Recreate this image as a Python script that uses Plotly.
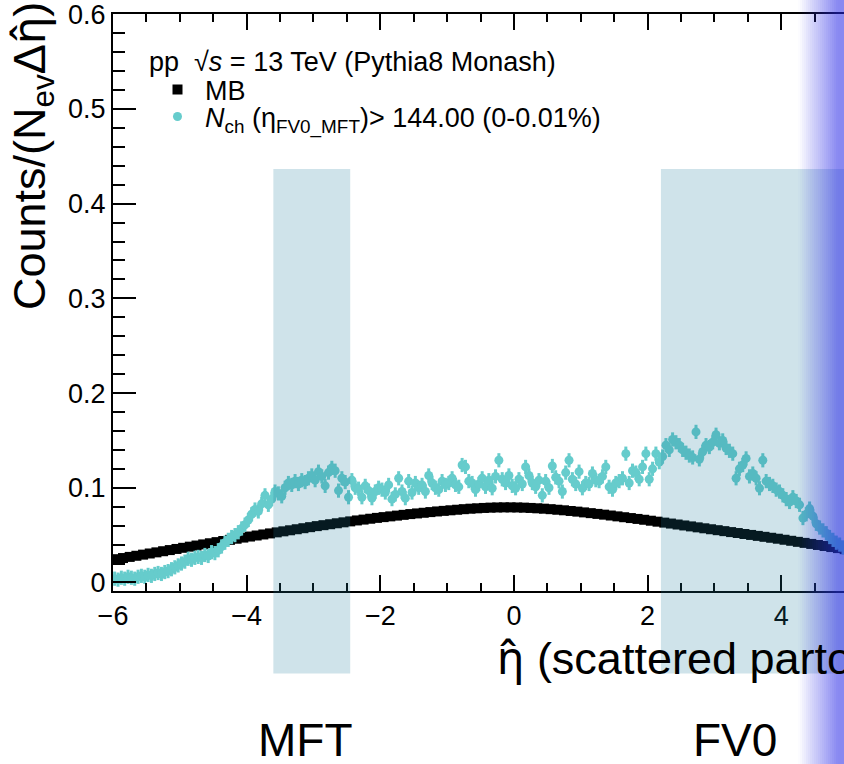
import numpy as np
import plotly.graph_objects as go

# ---- data -------------------------------------------------------------
# MB : black squares, 0.1 wide bins from -6 to 5
mb_bin_width = 0.1
mb_vals = [
    0.0246, 0.0258, 0.0270, 0.0282, 0.0294, 0.0306, 0.0318, 0.0330, 0.0342, 0.0354,
    0.0366, 0.0378, 0.0390, 0.0402, 0.0414, 0.0426, 0.0438, 0.0450, 0.0462, 0.0474,
    0.0485, 0.0496, 0.0507, 0.0518, 0.0529, 0.0540, 0.0551, 0.0562, 0.0573, 0.0584,
    0.0595, 0.0605, 0.0615, 0.0625, 0.0635, 0.0645, 0.0655, 0.0664, 0.0673, 0.0682,
    0.0690, 0.0698, 0.0706, 0.0714, 0.0722, 0.0729, 0.0736, 0.0743, 0.0750, 0.0756,
    0.0762, 0.0768, 0.0774, 0.0779, 0.0783, 0.0787, 0.0790, 0.0792, 0.0793, 0.0793,
    0.0792, 0.0790, 0.0787, 0.0783, 0.0779, 0.0774, 0.0768, 0.0762, 0.0755, 0.0748,
    0.0740, 0.0732, 0.0724, 0.0716, 0.0707, 0.0698, 0.0689, 0.0680, 0.0671, 0.0662,
    0.0652, 0.0642, 0.0632, 0.0622, 0.0612, 0.0602, 0.0592, 0.0582, 0.0572, 0.0562,
    0.0552, 0.0542, 0.0532, 0.0522, 0.0512, 0.0502, 0.0492, 0.0482, 0.0472, 0.0462,
    0.0451, 0.0440, 0.0429, 0.0418, 0.0407, 0.0396, 0.0385, 0.0374, 0.0363, 0.0352,
]

# Nch > 144 (0-0.01%) : teal circles, 0.05 wide bins from -6 to 5
hm_bin_width = 0.05
hm_vals = [
    # -6 .. -5
    0.004, 0.003, 0.005, 0.004, 0.006, 0.005, 0.004, 0.006, 0.007, 0.006,
    0.008, 0.007, 0.009, 0.010, 0.009, 0.011, 0.012, 0.014, 0.016, 0.018,
    # -5 .. -4
    0.020, 0.022, 0.025, 0.024, 0.026, 0.027, 0.026, 0.029, 0.028, 0.032,
    0.031, 0.034, 0.038, 0.042, 0.045, 0.048, 0.050, 0.053, 0.057, 0.061,
    # -4 .. -3
    0.066, 0.072, 0.077, 0.075, 0.083, 0.092, 0.082, 0.088, 0.096, 0.094,
    0.091, 0.100, 0.105, 0.103, 0.107, 0.104, 0.108, 0.106, 0.110, 0.113,
    # -3 .. -2
    0.108, 0.117, 0.112, 0.102, 0.116, 0.121, 0.118, 0.097, 0.110, 0.106,
    0.090, 0.108, 0.100, 0.099, 0.090, 0.102, 0.097, 0.089, 0.096, 0.100,
    # -2 .. -1
    0.098, 0.095, 0.103, 0.088, 0.093, 0.110, 0.096, 0.089, 0.107, 0.095,
    0.105, 0.100, 0.103, 0.096, 0.113, 0.105, 0.100, 0.098, 0.107, 0.103,
    # -1 .. 0
    0.105, 0.110, 0.103, 0.101, 0.124, 0.122, 0.107, 0.105, 0.098, 0.104,
    0.110, 0.101, 0.108, 0.0995, 0.112, 0.129, 0.109, 0.105, 0.113, 0.102,
    # 0 .. 1
    0.0995, 0.109, 0.104, 0.122, 0.113, 0.105, 0.101, 0.108, 0.092, 0.107,
    0.100, 0.123, 0.111, 0.107, 0.096, 0.116, 0.129, 0.109, 0.104, 0.117,
    # 1 .. 2
    0.0995, 0.105, 0.104, 0.115, 0.108, 0.107, 0.112, 0.122, 0.101, 0.098,
    0.105, 0.107, 0.110, 0.136, 0.105, 0.118, 0.116, 0.109, 0.122, 0.136,
    # 2 .. 3
    0.109, 0.120, 0.136, 0.127, 0.133, 0.145, 0.140, 0.151, 0.148, 0.145,
    0.140, 0.137, 0.134, 0.132, 0.159, 0.130, 0.138, 0.145, 0.143, 0.148,
    # 3 .. 4
    0.156, 0.147, 0.150, 0.142, 0.139, 0.136, 0.110, 0.120, 0.124, 0.131,
    0.112, 0.115, 0.110, 0.0995, 0.129, 0.107, 0.104, 0.102, 0.098, 0.096,
    # 4 .. 5
    0.092, 0.088, 0.085, 0.090, 0.086, 0.082, 0.068, 0.072, 0.078, 0.070,
    0.062, 0.058, 0.055, 0.052, 0.048, 0.045, 0.042, 0.040, 0.037, 0.035,
]
hm_err = 0.0075

# detector acceptances (eta)
mft_eta = [-3.6, -2.45]
fv0_eta = [2.2, 5.1]
box_y = [-0.096, 0.4365]   # vertical extent of the acceptance bands

x_range = [-6, 4.94]
y_range = [-0.009, 0.6002]

mb_x = -6 + mb_bin_width * (np.arange(len(mb_vals)) + 0.5)
hm_x = -6 + hm_bin_width * (np.arange(len(hm_vals)) + 0.5)

# ---- figure -----------------------------------------------------------
W, H = 844, 764
ml, mr, mt, mb = 113, 0, 14, 173
pw, ph = W - ml - mr, H - mt - mb

def ypaper(v):
    return (v - y_range[0]) / (y_range[1] - y_range[0])

def px2paper_x(p):
    return (p - ml) / pw

def px2paper_y(p):
    return (H - mb - p) / ph

FONT = "Liberation Sans, Arial, Helvetica, sans-serif"
ETAHAT = "<span style='font-family:Noto Sans'>η̂</span>"
teal = "#66CCCC"

fig = go.Figure()
fig.add_trace(go.Scatter(
    x=mb_x, y=mb_vals, mode="markers", name="MB",
    marker=dict(symbol="square", size=10, color="black"),
    legend="legend",
))
fig.add_trace(go.Scatter(
    x=hm_x, y=hm_vals, mode="markers",
    name="<i>N</i><sub>ch</sub> (η<sub>FV0_MFT</sub>)> 144.00 (0-0.01%)",
    marker=dict(symbol="circle", size=9, color=teal),
    error_y=dict(type="constant", value=hm_err, color=teal, thickness=3, width=0),
    legend="legend2",
))

shapes = []
for eta in (mft_eta, fv0_eta):
    shapes.append(dict(type="rect", xref="x", yref="paper",
                       x0=eta[0], x1=eta[1], y0=ypaper(box_y[0]), y1=ypaper(box_y[1]),
                       fillcolor="rgba(29,125,154,0.21)", line_width=0, layer="above"))

# blue fade on the right edge (slide decoration)
n_strip = 20
for i in range(n_strip + 1):
    p0 = 798 + 2 * i
    p1 = p0 + 2 if i < n_strip else W + 2
    a = 0.55 * min(1.0, (i + 0.5) / n_strip)
    shapes.append(dict(type="rect", xref="paper", yref="paper",
                       x0=px2paper_x(p0), x1=px2paper_x(p1),
                       y0=px2paper_y(H + 2), y1=px2paper_y(-2),
                       fillcolor=f"rgba(40,40,230,{a:.3f})", line_width=0, layer="above"))

annotations = [
    dict(text="pp  √<i>s</i> = 13 TeV (Pythia8 Monash)", xref="paper", yref="paper",
         x=px2paper_x(147), y=px2paper_y(62), xanchor="left", yanchor="middle",
         showarrow=False, font=dict(size=27, color="black", family=FONT)),
    dict(text="Counts/(N<sub>ev</sub>Δ" + ETAHAT + ")", xref="paper", yref="paper", textangle=-90,
         x=px2paper_x(-5), y=px2paper_y(0), xanchor="left", yanchor="top",
         showarrow=False, font=dict(size=45, color="black", family=FONT)),
    dict(text=ETAHAT + " (scattered parton)", xref="paper", yref="paper",
         x=px2paper_x(495), y=px2paper_y(656), xanchor="left", yanchor="middle",
         showarrow=False, font=dict(size=45, color="black", family=FONT)),
    dict(text="MFT", xref="paper", yref="paper",
         x=px2paper_x(305), y=px2paper_y(740), xanchor="center", yanchor="middle",
         showarrow=False, font=dict(size=46, color="black", family=FONT)),
    dict(text="FV0", xref="paper", yref="paper",
         x=px2paper_x(735), y=px2paper_y(740), xanchor="center", yanchor="middle",
         showarrow=False, font=dict(size=46, color="black", family=FONT)),
]

legend_common = dict(xanchor="left", yanchor="middle", bgcolor="rgba(0,0,0,0)",
                     borderwidth=0, itemwidth=45,
                     font=dict(size=27, color="black", family=FONT))

fig.update_layout(
    width=W, height=H,
    margin=dict(l=ml, r=mr, t=mt, b=mb, pad=0),
    paper_bgcolor="white", plot_bgcolor="white",
    font=dict(family=FONT, color="black"),
    showlegend=True,
    legend=dict(x=px2paper_x(150), y=px2paper_y(90), **legend_common),
    legend2=dict(x=px2paper_x(150), y=px2paper_y(117), **legend_common),
    shapes=shapes,
    annotations=annotations,
)

fig.update_xaxes(
    range=x_range, dtick=2, tick0=0,
    showline=True, linecolor="black", linewidth=2, mirror="ticks",
    ticks="inside", ticklen=16, tickwidth=2, tickcolor="black",
    minor=dict(dtick=0.5, ticks="inside", ticklen=8, tickwidth=2, tickcolor="black"),
    showgrid=False, zeroline=False, ticklabeloverflow="allow",
    tickfont=dict(size=27, color="black", family=FONT),
)
fig.update_yaxes(
    range=y_range, dtick=0.1, tick0=0,
    showline=True, linecolor="black", linewidth=2, mirror=False,
    ticks="inside", ticklen=23, tickwidth=2, tickcolor="black",
    minor=dict(dtick=0.02, ticks="inside", ticklen=12, tickwidth=2, tickcolor="black"),
    showgrid=False, zeroline=False, ticklabeloverflow="allow",
    tickfont=dict(size=27, color="black", family=FONT),
)

# page has a default 8px body margin; drop it so the figure sits at the corner
fig.write_html("out.html", config={"displayModeBar": False},
               post_script="document.body.style.margin='0';")
